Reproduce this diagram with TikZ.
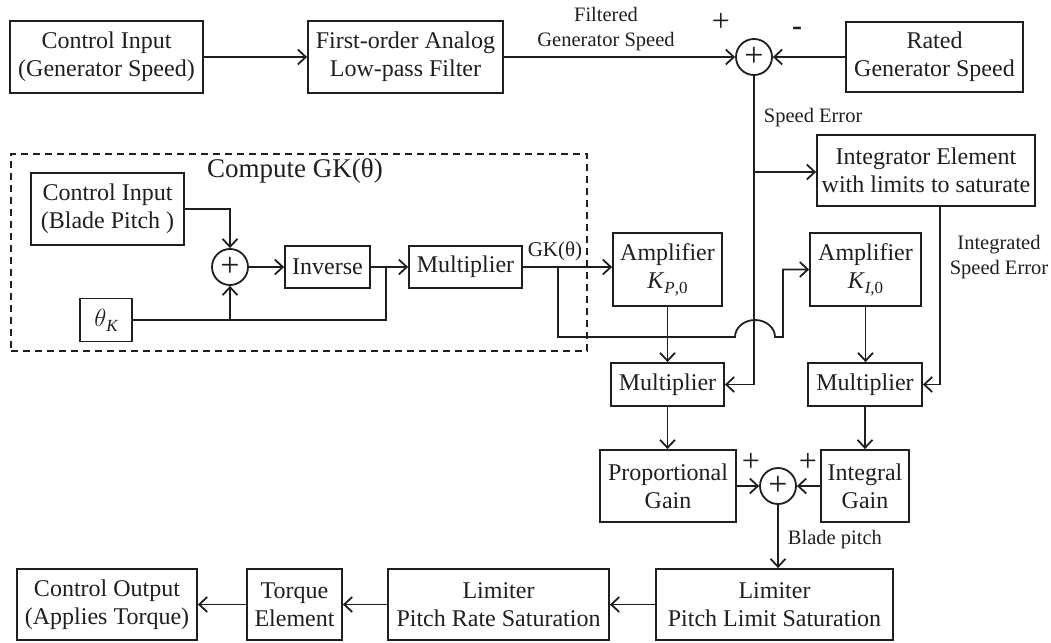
\documentclass[tikz,border=0pt]{standalone}
\usepackage{fontspec}
\setmainfont{Liberation Serif}
\usetikzlibrary{arrows.meta,calc}
\newcommand{\bfnt}{\fontsize{24}{28}\selectfont}
\newcommand{\lfnt}{\fontsize{20.5}{25}\selectfont}
\newcommand{\mysub}[1]{\raisebox{-5pt}{\fontsize{17}{17}\selectfont #1}}
\begin{document}
\begin{tikzpicture}[x=1pt,y=-1pt, line width=1.8pt, color=black!88,
  >={Straight Barb[length=8pt,width=15pt]},
  box/.style={draw, inner sep=0pt, align=center, font=\bfnt},
  sumn/.style={draw, circle, minimum size=36pt, inner sep=0pt, font=\fontsize{34}{34}\selectfont},
  lbl/.style={font=\lfnt, inner sep=0pt, align=center},
  sgn/.style={font=\fontsize{32}{32}\selectfont, inner sep=0pt}]
\useasboundingbox (0,0) rectangle (1051,642);
% top row
\node[box, minimum width=193pt, minimum height=72pt] (cig) at (106.5,57) {Control Input\\(Generator Speed)};
\node[box, minimum width=195pt, minimum height=72pt] (lpf) at (405.5,57) {First-order Analog\\Low-pass Filter};
\node[sumn] (s1) at (754,57) {+};
\node[box, minimum width=177pt, minimum height=70pt] (rated) at (934.5,57) {Rated\\Generator Speed};
\node[lbl] (flab) at (606,29) {Filtered\\Generator Speed};
\node[sgn] (p1) at (721,22) {+};
\node[sgn, font=\fontsize{30}{30}\selectfont\bfseries] (m1) at (797,31) {-};
\node[lbl, anchor=west] (selab) at (763,118) {Speed Error};
\node[box, minimum width=218pt, minimum height=71pt] (integ) at (926,170.5) {Integrator Element\\with limits to saturate};
\coordinate (j2) at (754,172);
% dashed group
\node[draw, dashed, dash pattern=on 7pt off 5pt, line width=1.5pt, minimum width=576pt, minimum height=197pt, inner sep=0pt] (gkbox) at (299,252.5) {};
\node[font=\fontsize{27}{27}\selectfont, inner sep=0pt] (gktitle) at (295,171) {Compute GK(θ)};
\node[box, minimum width=153pt, minimum height=72pt] (cib) at (107.5,209) {Control Input\\(Blade Pitch )};
\node[sumn] (s2) at (230,267) {+};
\node[box, minimum width=85pt, minimum height=42pt] (inv) at (327.5,267) {Inverse};
\node[box, minimum width=113pt, minimum height=42pt] (ml) at (465.5,267) {Multiplier};
\node[box, minimum width=52pt, minimum height=43pt] (thk) at (106,320) {$\theta$\mysub{\itshape K}};
\coordinate (j1) at (386,267);
% amplifiers
\node[lbl, font=\fontsize{21}{21}\selectfont] (gklab) at (555,251) {GK(θ)};
\coordinate (b1) at (558,267);
\coordinate (h1) at (558,337);
\coordinate (hopL) at (735,337);
\coordinate (rise) at (783,337);
\node[box, minimum width=109pt, minimum height=73pt] (kp) at (667.5,269.5) {Amplifier\\\textit{K}\mysub{\textit{P},0}};
\node[box, minimum width=111pt, minimum height=73pt] (ki) at (865.5,269.5) {Amplifier\\\textit{K}\mysub{\textit{I},0}};
\node[lbl] (islab) at (999,257) {Integrated\\Speed Error};
\node[box, minimum width=113pt, minimum height=43pt] (mp) at (667.5,384.5) {Multiplier};
\node[box, minimum width=114pt, minimum height=43pt] (mi) at (865,384.5) {Multiplier};
\node[box, minimum width=136pt, minimum height=72pt] (pg) at (668,486) {Proportional\\Gain};
\node[box, minimum width=88pt, minimum height=72pt] (ig) at (865,486) {Integral\\Gain};
\node[sumn] (s3) at (778,486) {+};
\node[sgn] (p2) at (751,462) {+};
\node[sgn] (p3) at (808,462) {+};
\node[lbl, anchor=west] (bplab) at (787,540) {Blade pitch};
% bottom row
\node[box, minimum width=237pt, minimum height=71pt] (pls) at (774.5,604.5) {Limiter\\Pitch Limit Saturation};
\node[box, minimum width=221pt, minimum height=71pt] (prs) at (498.5,604.5) {Limiter\\Pitch Rate Saturation};
\node[box, minimum width=95pt, minimum height=71pt] (te) at (294.5,604.5) {Torque\\Element};
\node[box, minimum width=180pt, minimum height=71pt] (co) at (107,604.5) {Control Output\\(Applies Torque)};
% connectors
\draw[->] (cig) -- (lpf);
\draw[->] (lpf) -- (s1);
\draw[->] (rated) -- (s1);
\draw[->] (s1.south) |- (mp.east);
\draw[->] (j2) -- (j2 -| integ.west);
\draw[->] ([xshift=14pt]integ.south) |- (mi.east);
\draw[->] (cib.east) -| (s2.north);
\draw[->] (s2) -- (inv);
\draw[->] (inv) -- (ml);
\draw (thk.east) -| (j1);
\draw[->] (thk.east -| s2) -- (s2.south);
\draw[->] (ml.east) -- (ml.east -| kp.west);
\draw[->] (b1) -- (h1) -- (hopL) arc[start angle=180, end angle=0, x radius=20pt, y radius=17pt] -- (rise) |- (ki.west);
\draw[->] (kp) -- (mp);
\draw[->] (ki.south) -- (ki.south |- mi.north);
\draw[->] (mp.south) -- (mp.south |- pg.north);
\draw[->] (mi) -- (ig);
\draw[->] (pg) -- (s3);
\draw[->] (ig) -- (s3);
\draw[->] (s3.south) -- (s3.south |- pls.north);
\draw[->] (pls) -- (prs);
\draw[->] (prs) -- (te);
\draw[->] (te) -- (co);
\end{tikzpicture}
\end{document}
